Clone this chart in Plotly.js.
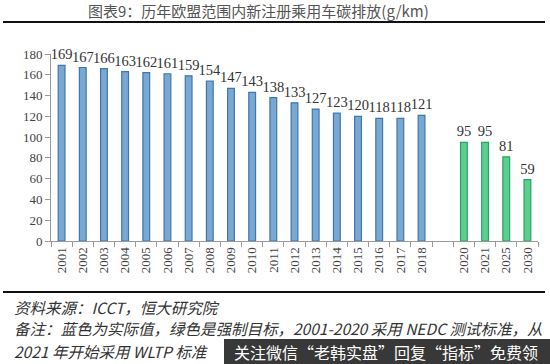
<!DOCTYPE html>
<html>
<head>
<meta charset="utf-8">
<script src="https://cdn.plot.ly/plotly-3.0.1.min.js"></script>
<style>html,body{margin:0;padding:0;background:#fff;}#chart{width:550px;height:364px;}</style>
</head>
<body>
<div id="chart"></div>
<script>
// Data
const actualYears = ['2001','2002','2003','2004','2005','2006','2007','2008','2009','2010','2011','2012','2013','2014','2015','2016','2017','2018'];
const actualValues = [169,167,166,163,162,161,159,154,147,143,138,133,127,123,120,118,118,121];
const gapLabel = ' ';
const targetYears = ['2020','2021','2025','2030'];
const targetValues = [95,95,81,59];
const yTicks = [0,20,40,60,80,100,120,140,160,180];

const titleText = '图表9：历年欧盟范围内新注册乘用车碳排放(g/km)';
const sourceText = '资料来源：ICCT，恒大研究院';
const noteLine1 = '备注：蓝色为实际值，绿色是强制目标，2001-2020 采用 NEDC 测试标准，从';
const noteLine2 = '2021 年开始采用 WLTP 标准';
const watermarkText = '关注微信“老韩实盘”回复“指标”免费领';

// Layout geometry
const W = 550, H = 364;
const M = {l: 51, r: 12, t: 54, b: 123};
const PW = W - M.l - M.r, PH = H - M.t - M.b;
const px = x => (x - M.l) / PW;
const py = y => (H - M.b - y) / PH;

const categories = actualYears.concat([gapLabel], targetYears);
const values = actualValues.concat([null], targetValues);
const fillColors = actualYears.map(() => '#79a9d3').concat(['#fff'], targetYears.map(() => '#5ccf8e'));
const lineColors = actualYears.map(() => '#3f77aa').concat(['#fff'], targetYears.map(() => '#27a463'));

const serif = 'Liberation Serif, DejaVu Serif, serif';
const cjk = '"Noto Sans CJK SC", sans-serif';

const trace = {
  type: 'bar',
  x: categories,
  y: values,
  width: 0.32,
  marker: {color: fillColors, line: {color: lineColors, width: 1.2}},
  text: values.map(v => v === null ? '' : String(v)),
  textposition: 'outside',
  constraintext: 'none',
  cliponaxis: false,
  textfont: {family: serif, size: 14.5, color: '#333'},
  hoverinfo: 'none'
};

const layout = {
  width: W, height: H,
  margin: M,
  paper_bgcolor: '#fff', plot_bgcolor: '#fff',
  showlegend: false,
  xaxis: {
    type: 'category',
    categoryorder: 'array', categoryarray: categories,
    showline: true, linecolor: '#9a9a9a', linewidth: 1,
    ticks: 'outside', tickson: 'boundaries', ticklen: 5, tickcolor: '#9a9a9a',
    tickangle: -90,
    tickfont: {family: serif, size: 13, color: '#444'},
    showgrid: false, zeroline: false, fixedrange: true
  },
  yaxis: {
    range: [0, 180],
    tickvals: yTicks,
    showline: true, linecolor: '#9a9a9a', linewidth: 1,
    ticks: 'outside', ticklen: 5, tickcolor: '#9a9a9a',
    tickfont: {family: serif, size: 13, color: '#444'},
    showgrid: false, zeroline: false, fixedrange: true
  },
  shapes: [
    {type: 'line', xref: 'paper', yref: 'paper', x0: px(3), x1: px(545), y0: py(22), y1: py(22), line: {color: '#111', width: 2}},
    {type: 'line', xref: 'paper', yref: 'paper', x0: px(3), x1: px(545), y0: py(292), y1: py(292), line: {color: '#111', width: 2}},
    {type: 'rect', xref: 'paper', yref: 'paper', x0: px(224), x1: px(550), y0: py(339), y1: py(365), fillcolor: 'rgba(45,45,45,0.95)', line: {width: 0}}
  ],
  annotations: [
    {xref: 'paper', yref: 'paper', x: px(258), y: py(11), xanchor: 'center', yanchor: 'middle', showarrow: false,
     text: titleText, font: {family: cjk, size: 15, color: '#555'}},
    {xref: 'paper', yref: 'paper', x: px(12), y: py(307), xanchor: 'left', yanchor: 'middle', showarrow: false,
     text: '<i>' + sourceText + '</i>', font: {family: cjk, size: 15.5, color: '#333'}},
    {xref: 'paper', yref: 'paper', x: px(12), y: py(328), xanchor: 'left', yanchor: 'middle', showarrow: false,
     text: '<i>' + noteLine1 + '</i>', font: {family: cjk, size: 15.5, color: '#333'}},
    {xref: 'paper', yref: 'paper', x: px(12), y: py(351), xanchor: 'left', yanchor: 'middle', showarrow: false,
     text: '<i>' + noteLine2 + '</i>', font: {family: cjk, size: 15.5, color: '#333'}},
    {xref: 'paper', yref: 'paper', x: px(232), y: py(352), xanchor: 'left', yanchor: 'middle', showarrow: false,
     text: watermarkText, font: {family: cjk, size: 16, color: '#fff'}}
  ]
};

Plotly.newPlot('chart', [trace], layout, {displayModeBar: false, staticPlot: true});
</script>
</body>
</html>
